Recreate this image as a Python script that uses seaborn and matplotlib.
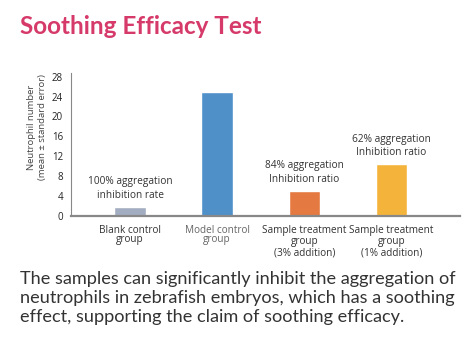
import matplotlib
matplotlib.use("Agg")
import matplotlib.pyplot as plt
import seaborn as sns
import pandas as pd

categories = ["Blank control\ngroup", "Model control\ngroup",
              "Sample treatment\ngroup\n(3% addition)", "Sample treatment\ngroup\n(1% addition)"]
values = [1.8, 25.0, 5.0, 10.4]
annotations = ["100% aggregation\ninhibition rate", "",
               "84% aggregation\nInhibition ratio", "62% aggregation\nInhibition ratio"]
yticks = [0, 4, 8, 12, 16, 20, 24, 28]
colors = ["#a3adc2", "#4f90c9", "#e57942", "#f4b43c"]

title = "Soothing Efficacy Test"
ylabel = "Neutrophil number\n(mean \u00b1 standard error)"
caption = ("The samples can significantly inhibit the aggregation of\n"
           "neutrophils in zebrafish embryos, which has a soothing\n"
           "effect, supporting the claim of soothing efficacy.")

sns.set_theme(style="white")
small = ["Open Sans", "DejaVu Sans"]
plt.rcParams["font.family"] = small

df = pd.DataFrame({"group": categories, "value": values})

fig = plt.figure(figsize=(4.72, 3.43), dpi=100)
ax = fig.add_axes([0.150, 0.371, 0.825, 0.417])
sns.barplot(data=df, x="group", y="value", hue="group", palette=colors,
            legend=False, width=0.36, ax=ax, saturation=1)

ax.set_ylim(0, 28.8)
ax.set_xlim(-0.68, 3.79)
ax.set_yticks(yticks)
ax.set_yticklabels([str(t) for t in yticks], fontsize=7, color="#222222")
ax.tick_params(axis="y", length=0, pad=5.5)
ax.tick_params(axis="x", length=0, pad=6.5)
for lbl in ax.get_xticklabels():
    lbl.set_fontsize(7.2)
    lbl.set_color("#333333")
    lbl.set_linespacing(1.05)
ax.get_xticklabels()[1].set_color("#666666")
ax.get_xticklabels()[0].set_linespacing(0.75)
ax.get_xticklabels()[1].set_linespacing(0.75)
ax.set_xlabel("")
ax.set_ylabel(ylabel, fontsize=6.8, color="#444444", linespacing=1.3)
ax.yaxis.set_label_coords(-0.062, 0.62)

for s in ["top", "right"]:
    ax.spines[s].set_visible(False)
ax.spines["left"].set_color("#888888")
ax.spines["left"].set_linewidth(0.8)
ax.spines["bottom"].set_color("#888888")
ax.spines["bottom"].set_linewidth(1.6)

for i, (v, a) in enumerate(zip(values, annotations)):
    if a:
        ax.text(i, v + 3.7, a, ha="center", va="center", fontsize=7.3,
                color="#333333", linespacing=1.3)

fig.text(20 / 472, 1 - 27 / 343, title, fontsize=17.5, fontweight="bold",
         color="#d63a6a", ha="left", va="center", family=["Lato", "DejaVu Sans"])
fig.text(20 / 472, 1 - 298 / 343, caption, fontsize=13.1, color="#333333",
         ha="left", va="center", linespacing=1.26, family=["Lato", "DejaVu Sans"])

fig.savefig("out.png", dpi=100)
